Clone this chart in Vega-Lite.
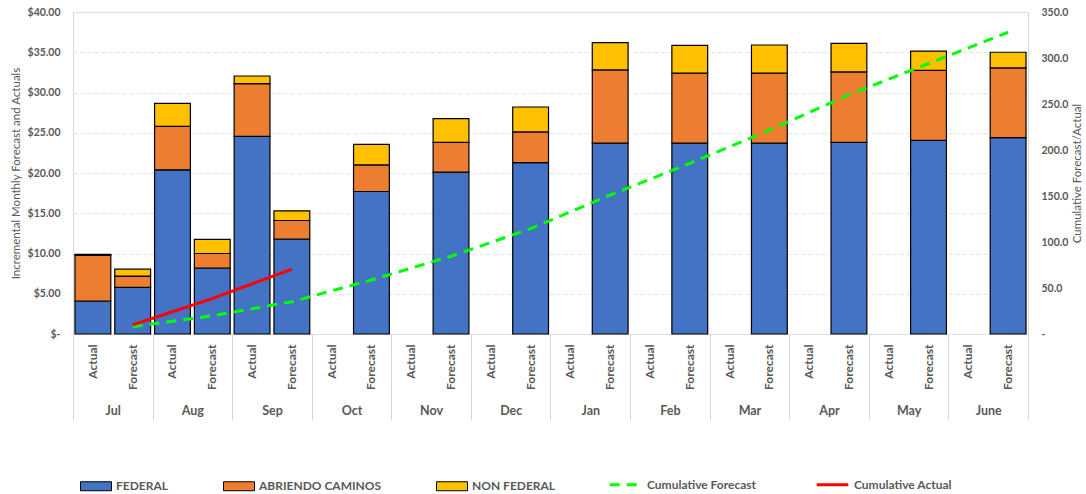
{
  "$schema": "https://vega.github.io/schema/vega-lite/v6.json",
  "width": 955,
  "height": 322,
  "autosize": {"type": "none"},
  "padding": {"left": 73, "top": 12, "right": 58, "bottom": 160},
  "config": {
    "font": "Lato",
    "view": {"stroke": "#d9d9d9", "strokeWidth": 1},
    "axis": {"labelColor": "#595959", "titleColor": "#595959", "titleFontWeight": "normal", "titleFontSize": 11.5, "titleFont": "Lato", "labelFont": "Lato"}
  },
  "datasets": {
    "bars": [
      {"cat": "Jul Actual", "series": "FEDERAL", "value": 4.1},
      {"cat": "Jul Actual", "series": "ABRIENDO CAMINOS", "value": 5.7},
      {"cat": "Jul Actual", "series": "NON FEDERAL", "value": 0.1},
      {"cat": "Jul Forecast", "series": "FEDERAL", "value": 5.8},
      {"cat": "Jul Forecast", "series": "ABRIENDO CAMINOS", "value": 1.4},
      {"cat": "Jul Forecast", "series": "NON FEDERAL", "value": 0.85},
      {"cat": "Aug Actual", "series": "FEDERAL", "value": 20.4},
      {"cat": "Aug Actual", "series": "ABRIENDO CAMINOS", "value": 5.4},
      {"cat": "Aug Actual", "series": "NON FEDERAL", "value": 2.85},
      {"cat": "Aug Forecast", "series": "FEDERAL", "value": 8.2},
      {"cat": "Aug Forecast", "series": "ABRIENDO CAMINOS", "value": 1.8},
      {"cat": "Aug Forecast", "series": "NON FEDERAL", "value": 1.75},
      {"cat": "Sep Actual", "series": "FEDERAL", "value": 24.55},
      {"cat": "Sep Actual", "series": "ABRIENDO CAMINOS", "value": 6.55},
      {"cat": "Sep Actual", "series": "NON FEDERAL", "value": 0.95},
      {"cat": "Sep Forecast", "series": "FEDERAL", "value": 11.8},
      {"cat": "Sep Forecast", "series": "ABRIENDO CAMINOS", "value": 2.3},
      {"cat": "Sep Forecast", "series": "NON FEDERAL", "value": 1.2},
      {"cat": "Oct Forecast", "series": "FEDERAL", "value": 17.7},
      {"cat": "Oct Forecast", "series": "ABRIENDO CAMINOS", "value": 3.3},
      {"cat": "Oct Forecast", "series": "NON FEDERAL", "value": 2.55},
      {"cat": "Nov Forecast", "series": "FEDERAL", "value": 20.1},
      {"cat": "Nov Forecast", "series": "ABRIENDO CAMINOS", "value": 3.7},
      {"cat": "Nov Forecast", "series": "NON FEDERAL", "value": 2.95},
      {"cat": "Dec Forecast", "series": "FEDERAL", "value": 21.3},
      {"cat": "Dec Forecast", "series": "ABRIENDO CAMINOS", "value": 3.8},
      {"cat": "Dec Forecast", "series": "NON FEDERAL", "value": 3.1},
      {"cat": "Jan Forecast", "series": "FEDERAL", "value": 23.7},
      {"cat": "Jan Forecast", "series": "ABRIENDO CAMINOS", "value": 9.1},
      {"cat": "Jan Forecast", "series": "NON FEDERAL", "value": 3.4},
      {"cat": "Feb Forecast", "series": "FEDERAL", "value": 23.7},
      {"cat": "Feb Forecast", "series": "ABRIENDO CAMINOS", "value": 8.7},
      {"cat": "Feb Forecast", "series": "NON FEDERAL", "value": 3.45},
      {"cat": "Mar Forecast", "series": "FEDERAL", "value": 23.7},
      {"cat": "Mar Forecast", "series": "ABRIENDO CAMINOS", "value": 8.7},
      {"cat": "Mar Forecast", "series": "NON FEDERAL", "value": 3.5},
      {"cat": "Apr Forecast", "series": "FEDERAL", "value": 23.8},
      {"cat": "Apr Forecast", "series": "ABRIENDO CAMINOS", "value": 8.75},
      {"cat": "Apr Forecast", "series": "NON FEDERAL", "value": 3.55},
      {"cat": "May Forecast", "series": "FEDERAL", "value": 24.05},
      {"cat": "May Forecast", "series": "ABRIENDO CAMINOS", "value": 8.7},
      {"cat": "May Forecast", "series": "NON FEDERAL", "value": 2.4},
      {"cat": "June Forecast", "series": "FEDERAL", "value": 24.4},
      {"cat": "June Forecast", "series": "ABRIENDO CAMINOS", "value": 8.65},
      {"cat": "June Forecast", "series": "NON FEDERAL", "value": 1.95}
    ],
    "lines": [
      {"cat": "Jul Forecast", "series": "Cumulative Forecast", "cum": 8.0},
      {"cat": "Aug Forecast", "series": "Cumulative Forecast", "cum": 19.8},
      {"cat": "Sep Forecast", "series": "Cumulative Forecast", "cum": 35.1},
      {"cat": "Oct Forecast", "series": "Cumulative Forecast", "cum": 58.7},
      {"cat": "Nov Forecast", "series": "Cumulative Forecast", "cum": 84.5},
      {"cat": "Dec Forecast", "series": "Cumulative Forecast", "cum": 114.5},
      {"cat": "Jan Forecast", "series": "Cumulative Forecast", "cum": 151.0},
      {"cat": "Feb Forecast", "series": "Cumulative Forecast", "cum": 185.5},
      {"cat": "Mar Forecast", "series": "Cumulative Forecast", "cum": 221.5},
      {"cat": "Apr Forecast", "series": "Cumulative Forecast", "cum": 260.0},
      {"cat": "May Forecast", "series": "Cumulative Forecast", "cum": 294.0},
      {"cat": "June Forecast", "series": "Cumulative Forecast", "cum": 328.0},
      {"cat": "Jul Forecast", "series": "Cumulative Actual", "cum": 9.9},
      {"cat": "Aug Forecast", "series": "Cumulative Actual", "cum": 38.5},
      {"cat": "Sep Forecast", "series": "Cumulative Actual", "cum": 70.5}
    ],
    "months": [
      {"month": "Jul"}, {"month": "Aug"}, {"month": "Sep"}, {"month": "Oct"},
      {"month": "Nov"}, {"month": "Dec"}, {"month": "Jan"}, {"month": "Feb"},
      {"month": "Mar"}, {"month": "Apr"}, {"month": "May"}, {"month": "June"}
    ]
  },
  "layer": [
    {
      "data": {"name": "bars"},
      "transform": [
        {"calculate": "indexof(['FEDERAL', 'ABRIENDO CAMINOS', 'NON FEDERAL'], datum.series)", "as": "stackOrder"}
      ],
      "mark": {"type": "bar", "stroke": "#000000", "strokeWidth": 1.2},
      "encoding": {
        "x": {
          "field": "cat", "type": "nominal", "sort": null,
          "scale": {"domain": ["Jul Actual","Jul Forecast","Aug Actual","Aug Forecast","Sep Actual","Sep Forecast","Oct Actual","Oct Forecast","Nov Actual","Nov Forecast","Dec Actual","Dec Forecast","Jan Actual","Jan Forecast","Feb Actual","Feb Forecast","Mar Actual","Mar Forecast","Apr Actual","Apr Forecast","May Actual","May Forecast","June Actual","June Forecast"], "paddingInner": 0.1, "paddingOuter": 0.05},
          "axis": {"orient": "bottom", "title": null, "labelExpr": "split(datum.label, ' ')[1]", "labelAngle": -90, "ticks": false, "domain": false, "labelFontSize": 12, "labelFontWeight": "bold", "labelPadding": 10}
        },
        "y": {
          "field": "value", "type": "quantitative", "stack": "zero",
          "scale": {"domain": [0, 40]},
          "axis": {"orient": "left", "values": [0,5,10,15,20,25,30,35,40], "labelExpr": "datum.value == 0 ? '$-' : '$' + format(datum.value, '.2f')", "title": "Incremental Monthly Forecast and Actuals", "grid": true, "gridDash": [4, 3], "gridColor": "#e4e4e4", "ticks": false, "domain": false, "labelFontSize": 10.5, "labelFontWeight": "bold", "labelPadding": 13, "titlePadding": 6}
        },
        "order": {"field": "stackOrder", "type": "quantitative", "sort": "ascending"},
        "fill": {
          "field": "series", "type": "nominal",
          "sort": ["FEDERAL", "ABRIENDO CAMINOS", "NON FEDERAL"],
          "scale": {"domain": ["FEDERAL", "ABRIENDO CAMINOS", "NON FEDERAL"], "range": ["#4472C4", "#ED7D31", "#FFC000"]},
          "legend": {"orient": "none", "legendX": 7, "legendY": 458, "direction": "horizontal", "title": null, "symbolType": "M-1,-0.29H1V0.29H-1Z", "symbolSize": 961, "symbolStrokeColor": "#000000", "symbolStrokeWidth": 1, "symbolOpacity": 1, "labelFontSize": 12, "labelFontWeight": "bold", "labelColor": "#595959", "columnPadding": 52, "labelOffset": 4}
        }
      }
    },
    {
      "data": {"name": "lines"},
      "mark": {"type": "line", "strokeWidth": 3},
      "encoding": {
        "x": {
          "field": "cat", "type": "nominal",
          "sort": ["Jul Actual","Jul Forecast","Aug Actual","Aug Forecast","Sep Actual","Sep Forecast","Oct Actual","Oct Forecast","Nov Actual","Nov Forecast","Dec Actual","Dec Forecast","Jan Actual","Jan Forecast","Feb Actual","Feb Forecast","Mar Actual","Mar Forecast","Apr Actual","Apr Forecast","May Actual","May Forecast","June Actual","June Forecast"],
          "scale": {"domain": ["Jul Actual","Jul Forecast","Aug Actual","Aug Forecast","Sep Actual","Sep Forecast","Oct Actual","Oct Forecast","Nov Actual","Nov Forecast","Dec Actual","Dec Forecast","Jan Actual","Jan Forecast","Feb Actual","Feb Forecast","Mar Actual","Mar Forecast","Apr Actual","Apr Forecast","May Actual","May Forecast","June Actual","June Forecast"], "paddingInner": 0.1, "paddingOuter": 0.05},
          "axis": null
        },
        "y": {
          "field": "cum", "type": "quantitative",
          "scale": {"domain": [0, 350]},
          "axis": {"orient": "right", "values": [0,50,100,150,200,250,300,350], "labelExpr": "datum.value == 0 ? '-' : format(datum.value, '.1f')", "title": "Cumulative Forecast/Actual", "titleAngle": -90, "titleBaseline": "top", "grid": false, "ticks": false, "domain": false, "labelFontSize": 10.5, "labelFontWeight": "bold", "labelPadding": 13, "titlePadding": 4}
        },
        "stroke": {
          "field": "series", "type": "nominal",
          "scale": {"domain": ["Cumulative Forecast", "Cumulative Actual"], "range": ["#00FF00", "#FF0000"]},
          "legend": {"orient": "none", "legendX": 535, "legendY": 455, "direction": "horizontal", "title": null, "symbolType": "stroke", "symbolSize": 1000, "symbolStrokeWidth": 3, "labelFontSize": 12, "labelFontWeight": "bold", "labelColor": "#595959", "columnPadding": 53, "labelOffset": 4}
        },
        "strokeDash": {
          "field": "series", "type": "nominal",
          "scale": {"domain": ["Cumulative Forecast", "Cumulative Actual"], "range": [[10, 7], [1, 0]]},
          "legend": {"orient": "none", "legendX": 535, "legendY": 455, "direction": "horizontal", "title": null, "symbolType": "stroke", "symbolSize": 1000, "symbolStrokeWidth": 3, "labelFontSize": 12, "labelFontWeight": "bold", "labelColor": "#595959", "columnPadding": 53, "labelOffset": 4}
        }
      }
    },
    {
      "data": {"name": "months"},
      "mark": {"type": "bar", "opacity": 0},
      "encoding": {
        "x": {
          "field": "month", "type": "nominal", "sort": null,
          "scale": {"paddingInner": 0, "paddingOuter": 0},
          "axis": {"orient": "bottom", "title": null, "labelAngle": 0, "domain": false, "ticks": true, "tickBand": "extent", "tickSize": 86, "tickColor": "#d9d9d9", "tickWidth": 1, "labelPadding": -16, "labelFontSize": 12.5, "labelFontWeight": "bold"}
        }
      }
    }
  ],
  "resolve": {
    "scale": {"x": "independent", "y": "independent"},
    "axis": {"x": "independent", "y": "independent"}
  }
}
